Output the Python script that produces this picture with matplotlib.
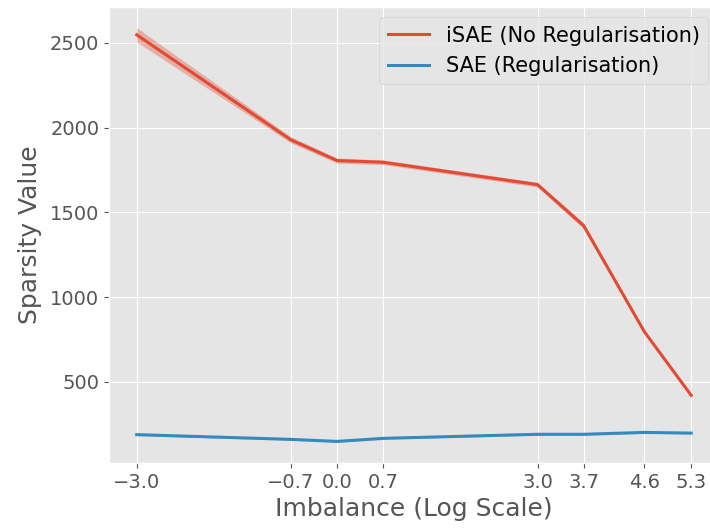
import numpy as np
import matplotlib
matplotlib.use("Agg")
import matplotlib.pyplot as plt

plt.style.use("ggplot")

# log of the class imbalance ratio
imbalance = [-3.0, -0.69, 0.0, 0.69, 3.0, 3.69, 4.6, 5.3]
tick_labels = ["\u22123.0", "\u22120.7", "0.0", "0.7", "3.0", "3.7", "4.6", "5.3"]

isae_mean = [2547, 1927, 1805, 1795, 1663, 1421, 795, 420]
isae_spread = [42, 18, 15, 14, 14, 18, 6, 5]

sae_mean = [188, 160, 148, 166, 190, 190, 201, 197]
sae_spread = [6, 5, 5, 5, 5, 5, 5, 5]

fig = plt.figure(figsize=(7.1, 5.29), dpi=100)
ax = fig.add_axes([0.1535, 0.1248, 0.859, 0.862])

x = np.array(imbalance)
for mean, spread, color, label in [
    (isae_mean, isae_spread, "#E24A33", "iSAE (No Regularisation)"),
    (sae_mean, sae_spread, "#348ABD", "SAE (Regularisation)"),
]:
    mean = np.array(mean, dtype=float)
    spread = np.array(spread, dtype=float)
    ax.plot(x, mean, color=color, lw=2.2, label=label)
    ax.fill_between(x, mean - spread, mean + spread, color=color, alpha=0.35, lw=0)

ax.set_xticks(imbalance)
ax.set_xticklabels(tick_labels)
ax.set_yticks([500, 1000, 1500, 2000, 2500])
ax.tick_params(labelsize=14)
ax.set_xlabel("Imbalance (Log Scale)", fontsize=18)
ax.set_ylabel("Sparsity Value", fontsize=18, labelpad=6)
ax.legend(loc="upper right", fontsize=15)

fig.savefig("out.png", dpi=100)
